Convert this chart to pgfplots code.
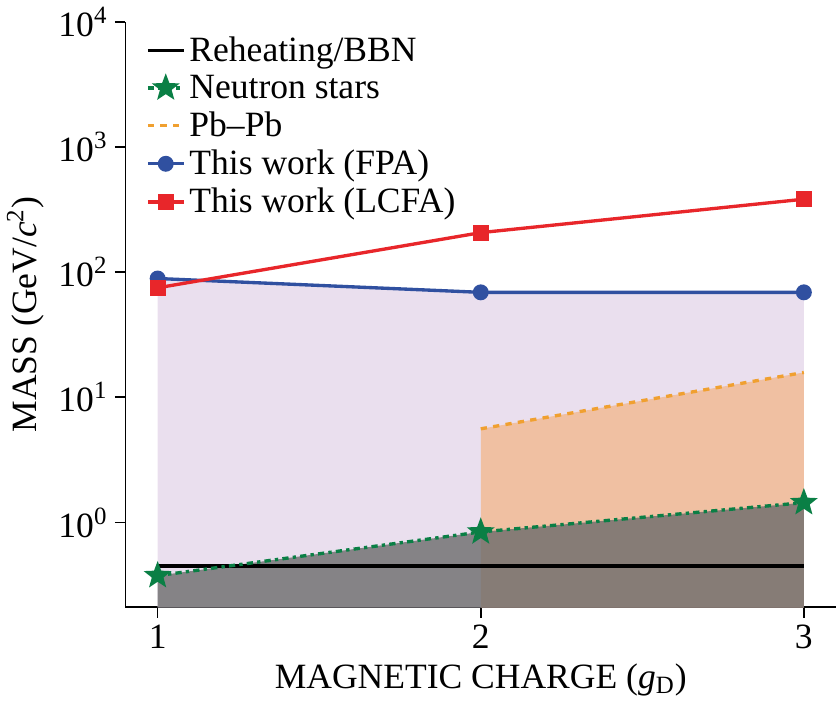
\documentclass[border=0pt]{standalone}
\usepackage{pgfplots}
\pgfplotsset{compat=1.18}
\usepackage{fontspec}
\setmainfont{Liberation Serif}
\definecolor{cfpa}{HTML}{3050A0}
\definecolor{clcfa}{HTML}{E8262A}
\definecolor{cns}{HTML}{0A7F45}
\definecolor{cpb}{HTML}{F0A030}
\definecolor{cpur}{HTML}{EADFEE}
\definecolor{corg}{HTML}{F0C0A2}
\pgfdeclareplotmark{fstar}{%
  \pgfpathmoveto{\pgfqpointpolar{90}{\pgfplotmarksize}}%
  \pgfpathlineto{\pgfqpointpolar{126}{0.42\pgfplotmarksize}}%
  \pgfpathlineto{\pgfqpointpolar{162}{\pgfplotmarksize}}%
  \pgfpathlineto{\pgfqpointpolar{198}{0.42\pgfplotmarksize}}%
  \pgfpathlineto{\pgfqpointpolar{234}{\pgfplotmarksize}}%
  \pgfpathlineto{\pgfqpointpolar{270}{0.42\pgfplotmarksize}}%
  \pgfpathlineto{\pgfqpointpolar{306}{\pgfplotmarksize}}%
  \pgfpathlineto{\pgfqpointpolar{342}{0.42\pgfplotmarksize}}%
  \pgfpathlineto{\pgfqpointpolar{18}{\pgfplotmarksize}}%
  \pgfpathlineto{\pgfqpointpolar{54}{0.42\pgfplotmarksize}}%
  \pgfpathclose\pgfusepathqfill}
\begin{document}
\begin{tikzpicture}
\begin{axis}[
  scale only axis, width=340pt, height=280pt,
  ymode=log, xmin=0.9, xmax=3.1, ymin=0.21, ymax=1e4,
  axis x line*=bottom, axis y line*=left,
  xtick={1,2,3}, ytick={1,10,100,1000,10000},
  yminorticks=false, tick align=outside,
  tick style={black, line width=0.8pt}, axis line style={line width=0.8pt},
  major tick length=5pt,
  /pgf/number format/assume math mode=true,
  ticklabel style={font=\fontsize{17}{20}\selectfont},
  yticklabel={10\textsuperscript{\pgfmathparse{int(round(\tick/ln(10)))}\pgfmathresult}},
  label style={font=\fontsize{17}{20}\selectfont},
  xlabel={MAGNETIC CHARGE (\textit{g}\textsubscript{D})},
  ylabel={MASS (GeV/\textit{c}\textsuperscript{2})},
  legend style={draw=none, fill=none, at={(0.02,0.99)}, anchor=north west, font=\fontsize{17}{20}\selectfont, row sep=1pt},
  legend cell align=left,
]
\addplot[draw=none, fill=cpur, forget plot] coordinates {(1,89) (2,69) (3,69) (3,0.21) (1,0.21)} -- cycle;
\addplot[draw=none, fill=corg, forget plot] coordinates {(2,5.6) (3,15.8) (3,0.21) (2,0.21)} -- cycle;
\addplot[draw=none, fill=gray!85!black, fill opacity=0.8, forget plot] coordinates {(1,0.376) (2,0.84) (3,1.44) (3,0.21) (1,0.21)} -- cycle;
\addplot[black, line width=1.6pt] coordinates {(1,0.45) (3,0.45)};
\addlegendentry{Reheating/BBN}
\addplot[cns, line width=1.6pt, dash dot, mark=fstar, mark size=7pt, mark options={solid, fill=cns}] coordinates {(1,0.376) (2,0.84) (3,1.44)};
\addlegendentry{Neutron stars}
\addplot[cpb, line width=1.6pt, dashed] coordinates {(2,5.6) (3,15.8)};
\addlegendentry{Pb--Pb}
\addplot[cfpa, line width=1.6pt, mark=*, mark size=3pt] coordinates {(1,89) (2,69) (3,69)};
\addlegendentry{This work (FPA)}
\addplot[clcfa, line width=1.6pt, mark=square*, mark size=3pt] coordinates {(1,75) (2,207) (3,383)};
\addlegendentry{This work (LCFA)}
\end{axis}
\end{tikzpicture}
\end{document}
